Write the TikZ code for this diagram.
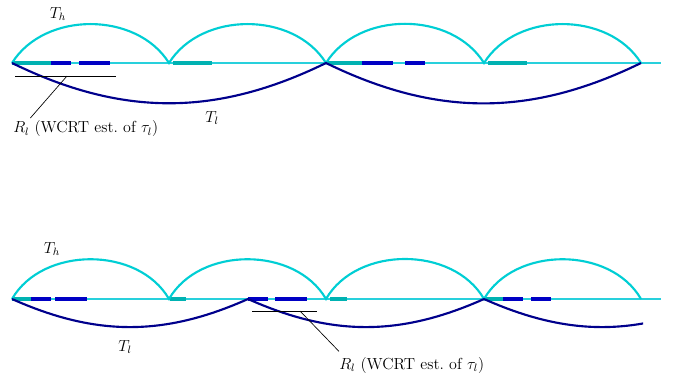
\documentclass[tikz,border=0pt]{standalone}
\usepackage{amsmath}
\definecolor{harc}{RGB}{0,206,212}
\definecolor{tbar}{RGB}{0,178,178}
\definecolor{lbarc}{RGB}{0,0,196}
\definecolor{larc}{RGB}{0,0,140}
\definecolor{base}{RGB}{40,208,220}
\begin{document}
\begin{tikzpicture}[x=0.75pt,y=0.75pt,
  harcs/.style={draw=harc,line width=1.6pt},
  larcs/.style={draw=larc,line width=1.6pt},
  baseln/.style={draw=base,line width=0.8pt},
  hbar/.style={draw=tbar,line width=3.4pt},
  lbar/.style={draw=lbarc,line width=3.4pt},
  thin/.style={draw=black,line width=0.5pt},
  lab/.style={inner sep=0pt,font=\fontsize{12}{14}\selectfont}]
\useasboundingbox (0,0) rectangle (673,-383);
% ---------- top diagram ----------
\foreach \i/\x in {0/12,1/169,2/326,3/484,4/641}{\coordinate (a\i) at (\x,-63);}
\coordinate (aend) at (661,-63);
\draw[baseln] (a0) -- (aend);
% bars
\draw[hbar] (12,-63) -- (51,-63);
\draw[lbar] (51,-63) -- (71,-63);
\draw[lbar] (79,-63) -- (110,-63);
\draw[hbar] (173,-63) -- (212,-63);
\draw[hbar] (328,-63) -- (362,-63);
\draw[lbar] (362,-63) -- (393,-63);
\draw[lbar] (405,-63) -- (425,-63);
\draw[hbar] (488,-63) -- (527,-63);
% arcs
\draw[harcs] (a0) to[bend left=58] (a1) to[bend left=58] (a2) to[bend left=58] (a3) to[bend left=58] (a4);
\draw[larcs] (a0) to[bend right=26] (a2) to[bend right=26] (a4);
% response line
\coordinate (u0) at (15,-76);
\coordinate (u1) at (116,-76);
\coordinate (u2) at (67,-76);
\draw[thin] (u0) -- (u1);
\node[lab,anchor=west] (rl1) at (13,-129) {$R_l$ (WCRT est.\ of $\tau_l$)};
\draw[thin] (u2) -- ([xshift=13pt,yshift=2pt]rl1.north west);
\node[lab] (th1) at (58,-14) {$T_h$};
\node[lab] (tl1) at (212,-118) {$T_l$};
% ---------- bottom diagram ----------
\foreach \i/\x in {0/12,1/169,2/326,3/484,4/641}{\coordinate (b\i) at (\x,-299);}
\coordinate (bm) at (248,-299);
\coordinate (bx) at (720,-299);
\coordinate (bend) at (661,-299);
\draw[baseln] (b0) -- (bend);
\draw[hbar] (12,-299) -- (31,-299);
\draw[lbar] (31,-299) -- (51,-299);
\draw[lbar] (55,-299) -- (87,-299);
\draw[hbar] (170,-299) -- (186,-299);
\draw[lbar] (248,-299) -- (268,-299);
\draw[lbar] (275,-299) -- (307,-299);
\draw[hbar] (330,-299) -- (347,-299);
\draw[hbar] (485,-299) -- (503,-299);
\draw[lbar] (503,-299) -- (523,-299);
\draw[lbar] (531,-299) -- (551,-299);
\draw[harcs] (b0) to[bend left=60] (b1) to[bend left=60] (b2) to[bend left=60] (b3) to[bend left=60] (b4);
\draw[larcs] (b0) to[bend right=24] (bm) to[bend right=24] (b3);
\begin{scope}
  \clip (480,-280) rectangle (643,-340);
  \draw[larcs] (b3) to[bend right=24] (bx);
\end{scope}
\coordinate (v0) at (252,-311);
\coordinate (v1) at (317,-311);
\coordinate (v2) at (300,-311);
\draw[thin] (v0) -- (v1);
\node[lab,anchor=west] (rl2) at (339,-365) {$R_l$ (WCRT est.\ of $\tau_l$)};
\draw[thin] (v2) -- ([yshift=4pt]rl2.north west);
\node[lab] (th2) at (52,-249) {$T_h$};
\node[lab] (tl2) at (125,-347) {$T_l$};
\end{tikzpicture}
\end{document}
